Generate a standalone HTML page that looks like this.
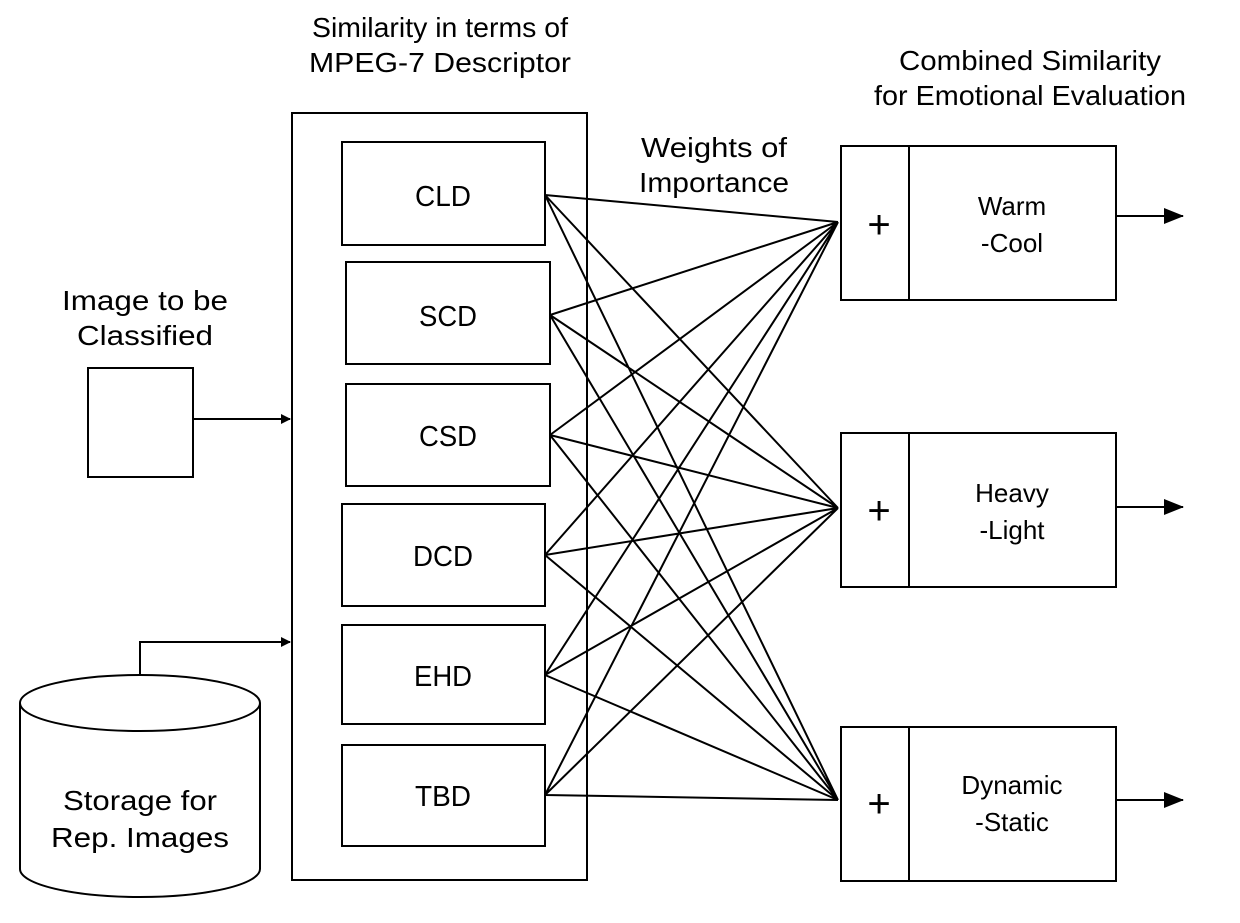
<!DOCTYPE html>
<html><head><meta charset="utf-8"><style>html,body{margin:0;padding:0;background:#fff}</style></head>
<body>
<svg width="1240" height="918" xmlns="http://www.w3.org/2000/svg" font-family="Liberation Sans, sans-serif" font-size="28" fill="#000">
<defs>
<marker id="a" markerWidth="10" markerHeight="10" refX="9" refY="5" orient="auto" markerUnits="userSpaceOnUse"><path d="M0,0 L10,5 L0,10 z"/></marker>
<marker id="b" markerWidth="20" markerHeight="16" refX="19" refY="8" orient="auto" markerUnits="userSpaceOnUse"><path d="M0,0 L20,8 L0,16 z"/></marker></defs>
<g text-anchor="middle">
<text x="440" y="37" textLength="256" lengthAdjust="spacingAndGlyphs">Similarity in terms of</text>
<text x="440" y="72" textLength="262" lengthAdjust="spacingAndGlyphs">MPEG-7 Descriptor</text>
<text x="1030" y="70" textLength="262" lengthAdjust="spacingAndGlyphs">Combined Similarity</text>
<text x="1030" y="105" textLength="312" lengthAdjust="spacingAndGlyphs">for Emotional Evaluation</text>
<text x="714" y="157" textLength="146" lengthAdjust="spacingAndGlyphs">Weights of</text>
<text x="714" y="192" textLength="150" lengthAdjust="spacingAndGlyphs">Importance</text>
<text x="145" y="310" textLength="166" lengthAdjust="spacingAndGlyphs">Image to be</text>
<text x="145" y="345" textLength="136" lengthAdjust="spacingAndGlyphs">Classified</text>
<text x="140" y="810" textLength="154" lengthAdjust="spacingAndGlyphs">Storage for</text>
<text x="140" y="847" textLength="178" lengthAdjust="spacingAndGlyphs">Rep. Images</text>
</g>
<g fill="none" stroke="#000" stroke-width="2">
<rect x="292" y="113" width="295" height="767"/>
<rect x="342" y="142" width="203" height="103"/>
<rect x="346" y="262" width="204" height="102"/>
<rect x="346" y="384" width="204" height="102"/>
<rect x="342" y="504" width="203" height="102"/>
<rect x="342" y="625" width="203" height="99"/>
<rect x="342" y="745" width="203" height="101"/>
<rect x="88" y="368" width="105" height="109"/>
<path d="M20,703 L20,869 A120,28 0 0 0 260,869 L260,703"/>
<ellipse cx="140" cy="703" rx="120" ry="28"/>
<line x1="193" y1="419" x2="290" y2="419" marker-end="url(#a)"/>
<polyline points="140,675 140,642 290,642" marker-end="url(#a)"/>
<rect x="841" y="146" width="275" height="154"/><line x1="909" y1="146" x2="909" y2="300"/>
<rect x="841" y="433" width="275" height="154"/><line x1="909" y1="433" x2="909" y2="587"/>
<rect x="841" y="727" width="275" height="154"/><line x1="909" y1="727" x2="909" y2="881"/>
<line x1="1116" y1="216" x2="1183" y2="216" marker-end="url(#b)"/>
<line x1="1116" y1="507" x2="1183" y2="507" marker-end="url(#b)"/>
<line x1="1116" y1="800" x2="1183" y2="800" marker-end="url(#b)"/>
</g>
<g stroke="#000" stroke-width="2">
<path d="M545,195 L838,222 M545,195 L838,508 M545,195 L838,800
M550,315 L838,222 M550,315 L838,508 M550,315 L838,800
M550,435 L838,222 M550,435 L838,508 M550,435 L838,800
M545,555 L838,222 M545,555 L838,508 M545,555 L838,800
M545,675 L838,222 M545,675 L838,508 M545,675 L838,800
M545,795 L838,222 M545,795 L838,508 M545,795 L838,800"/>
</g>
<g text-anchor="middle" font-size="29">
<text x="443" y="206" textLength="56" lengthAdjust="spacingAndGlyphs">CLD</text>
<text x="448" y="326" textLength="58" lengthAdjust="spacingAndGlyphs">SCD</text>
<text x="448" y="446" textLength="58" lengthAdjust="spacingAndGlyphs">CSD</text>
<text x="443" y="566" textLength="60" lengthAdjust="spacingAndGlyphs">DCD</text>
<text x="443" y="686" textLength="58" lengthAdjust="spacingAndGlyphs">EHD</text>
<text x="443" y="806" textLength="56" lengthAdjust="spacingAndGlyphs">TBD</text>
<text x="879" y="238" font-size="40">+</text>
<text x="879" y="524" font-size="40">+</text>
<text x="879" y="817" font-size="40">+</text>
</g>
<g text-anchor="middle" font-size="26">
<text x="1012" y="215">Warm</text><text x="1012" y="252">-Cool</text>
<text x="1012" y="502">Heavy</text><text x="1012" y="539">-Light</text>
<text x="1012" y="794">Dynamic</text><text x="1012" y="831">-Static</text>
</g>
</svg>
</body></html>
